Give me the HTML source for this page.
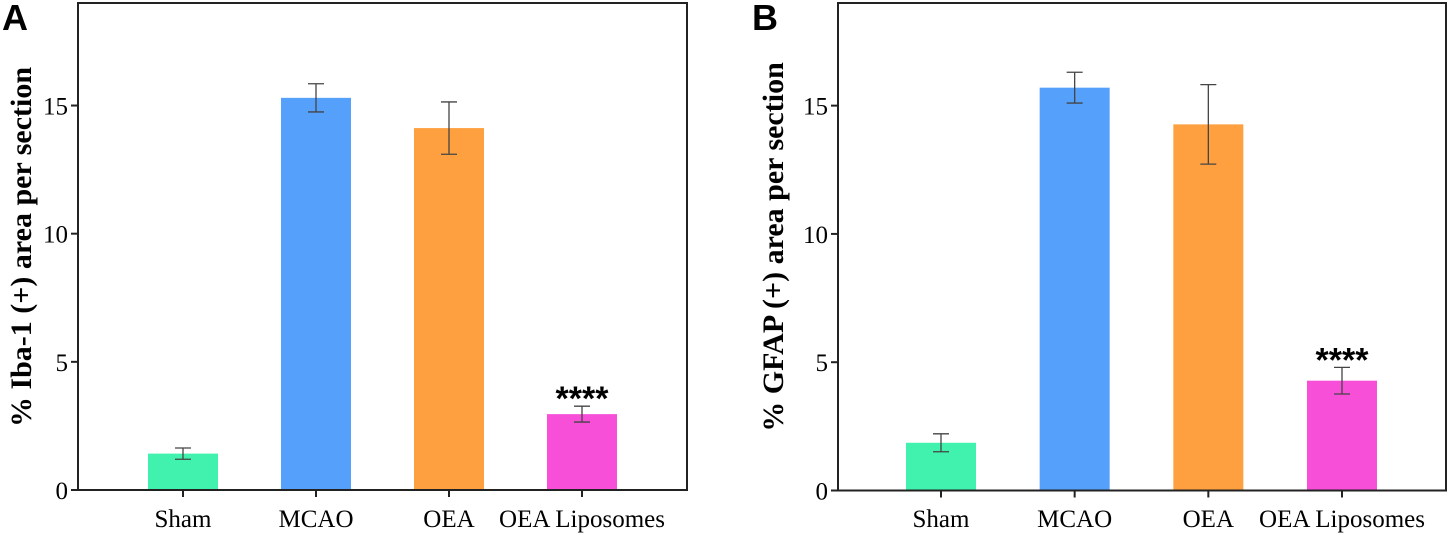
<!DOCTYPE html>
<html><head><meta charset="utf-8"><style>
body{margin:0;background:#fff;}
svg{display:block;}
text{fill:#000;}
</style></head><body>
<svg id="chart" width="1450" height="534" viewBox="0 0 1450 534"></svg>
<script>
const categories = ["Sham","MCAO","OEA","OEA Liposomes"];
const colors = ["#41F2AF","#55A0FB","#FFA040","#F74FD8"];
const iba1Means = [1.42, 15.3, 14.12, 2.96];
const iba1Err = [0.22, 0.55, 1.02, 0.31];
const gfapMeans = [1.86, 15.7, 14.27, 4.28];
const gfapErr = [0.35, 0.6, 1.55, 0.52];
const yTicks = [0,5,10,15];
const sigLabels = ["","","","****"];

const NS="http://www.w3.org/2000/svg";
const svg=document.getElementById('chart');
const SERIF='font-family:"Liberation Serif",serif;';
const SANS='font-family:"Liberation Sans",sans-serif;';
function mk(tag,attrs,parent){const e=document.createElementNS(NS,tag);for(const k in attrs)e.setAttribute(k,attrs[k]);(parent||svg).appendChild(e);return e;}

function panel(cfg){
  const g=mk('g',{});
  
  
  const x0=cfg.left,x1=cfg.right,yTop=3,yBot=cfg.bottom,ymax=19;
  const y=v=>yBot-(v/ymax)*(yBot-yTop);
  const step=(cfg.c3-cfg.c0)/3;
  const xc=i=>cfg.c0+i*step;
  const bw=70;
  cfg.means.forEach((m,i)=>{
    const r=mk('rect',{x:xc(i)-bw/2,y:y(m),width:bw,height:yBot-y(m),fill:colors[i]},g);
    
    
    const hi=y(m+cfg.err[i]),lo=y(m-cfg.err[i]);
    const eb=mk('path',{d:`M${xc(i)} ${hi}V${lo}M${xc(i)-8} ${hi}H${xc(i)+8}M${xc(i)-8} ${lo}H${xc(i)+8}`,stroke:'#444',"stroke-width":1.3,fill:'none'},g);
    
    
    if(sigLabels[i]){
      const t=mk('text',{x:xc(i),y:hi+4,"text-anchor":'middle',style:SANS+'font-size:34px;font-weight:bold;'},g);
      t.textContent=sigLabels[i];
      
      
    }
    const tk=mk('line',{x1:xc(i),x2:xc(i),y1:yBot,y2:yBot+7,stroke:'#222',"stroke-width":2},g);
    
    
    const lb=mk('text',{x:xc(i),y:527,"text-anchor":'middle',style:SERIF+'font-size:25px;'},g);
    lb.textContent=categories[i];
    
    
  });
  const fr=mk('rect',{x:x0,y:yTop,width:x1-x0,height:yBot-yTop,fill:'none',stroke:'#222',"stroke-width":2},g);
  
  
  yTicks.forEach(v=>{
    const l=mk('line',{x1:x0-7,x2:x0,y1:y(v),y2:y(v),stroke:'#222',"stroke-width":2},g);
    
    
    const t=mk('text',{x:x0-10,y:y(v)+9,"text-anchor":'end',style:SERIF+'font-size:25px;'},g);
    t.textContent=v;
    
    
  });
  const yt=mk('text',{x:0,y:0,transform:`translate(${cfg.titleX},247) rotate(-90)`,"text-anchor":'middle',style:SERIF+'font-size:30px;font-weight:bold;'},g);
  yt.textContent=cfg.title;
  
  
  const pl=mk('text',{x:cfg.letterX,y:30,style:SANS+'font-size:36px;font-weight:bold;'},g);
  pl.textContent=cfg.letter;
  
  
}
panel({name:'panel-a-iba1',left:78,right:687,bottom:490,c0:183,c3:582,means:iba1Means,err:iba1Err,title:'% Iba-1 (+) area per section',titleX:31,letter:'A',letterX:2});
panel({name:'panel-b-gfap',left:838,right:1446,bottom:490.5,c0:941,c3:1342,means:gfapMeans,err:gfapErr,title:'% GFAP (+) area per section',titleX:783,letter:'B',letterX:752});
</script>
</body></html>
